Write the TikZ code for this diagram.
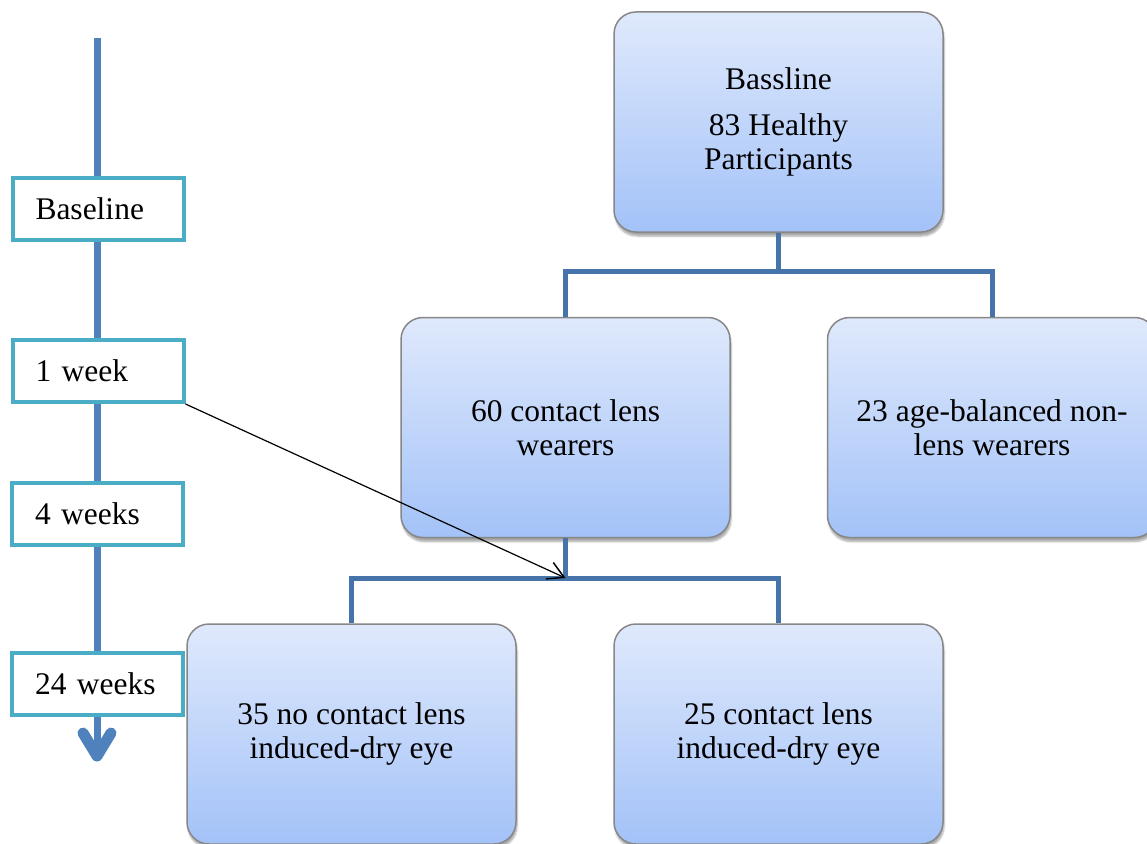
\documentclass[tikz,border=0pt]{standalone}
\usepackage{fontspec}
\setmainfont{Liberation Serif}
\usetikzlibrary{shadows.blur,arrows.meta}
\definecolor{tlblue}{RGB}{79,129,189}
\definecolor{connblue}{RGB}{70,116,170}
\definecolor{tealbox}{RGB}{75,172,198}
\definecolor{boxtop}{RGB}{223,233,252}
\definecolor{boxbot}{RGB}{163,194,248}
\definecolor{boxline}{RGB}{135,135,135}
\tikzset{
 flowbox/.style={draw=boxline, line width=1.5pt, rounded corners=22pt, top color=boxtop, bottom color=boxbot,
   minimum width=329pt, minimum height=220pt, inner sep=0pt, align=center,
   font=\fontsize{31.5}{34}\selectfont,
   blur shadow={shadow xshift=1pt, shadow yshift=-4pt, shadow blur steps=6, shadow opacity=35}},
 timebox/.style={draw=tealbox, line width=4pt, fill=white, minimum height=62pt, inner xsep=23pt,
   text width=125pt, align=left, font=\fontsize{31.5}{34}\selectfont},
 conn/.style={draw=connblue, line width=5pt},
 timeline/.style={draw=tlblue, line width=7pt},
}
\begin{document}
\begin{tikzpicture}[x=1pt,y=-1pt]
\path[use as bounding box, clip] (0,0) rectangle (1147,843);
% timeline
\coordinate (tltop) at (97,38);
\coordinate (tlend) at (97,752);
\coordinate (chl) at (83,733);
\coordinate (chr) at (111,733);
\coordinate (chtip) at (97,756);
\draw[timeline] (tltop) -- (tlend);
\draw[tlblue, line width=11pt, line cap=round, line join=round] (chl) -- (chtip) -- (chr);
% time boxes
\node[timebox] (b0) at (98,209) {Baseline};
\node[timebox] (w1) at (98,371) {1 week};
\node[timebox] (w4) at (97.5,514) {4 weeks};
\node[timebox] (w24) at (97.5,683.5) {24 weeks};
% flow boxes
\node[flowbox] (top) at (778.5,122) {Bassline\\[12pt]83 Healthy\\Participants};
\node[flowbox] (cl) at (565.5,427.5) {60 contact lens\\wearers};
\node[flowbox] (nl) at (992,427.5) {23 age-balanced non-\\lens wearers};
\node[flowbox] (nd) at (351.5,734) {35 no contact lens\\induced-dry eye};
\node[flowbox] (dd) at (778.5,734) {25 contact lens\\induced-dry eye};
% connectors
\coordinate (j1) at (778.5,271);
\coordinate (j2) at (565.5,578);
\draw[conn] (top.south) -- (j1);
\draw[conn] (cl.north) |- (j1) -| (nl.north);
\draw[conn] (cl.south) -- (j2);
\draw[conn] (nd.north) |- (j2) -| (dd.north);
\draw[line width=1.2pt, -{Straight Barb[length=16pt,width=18pt,line width=1.5pt]}] (w1.south east) -- (j2);
\end{tikzpicture}
\end{document}
